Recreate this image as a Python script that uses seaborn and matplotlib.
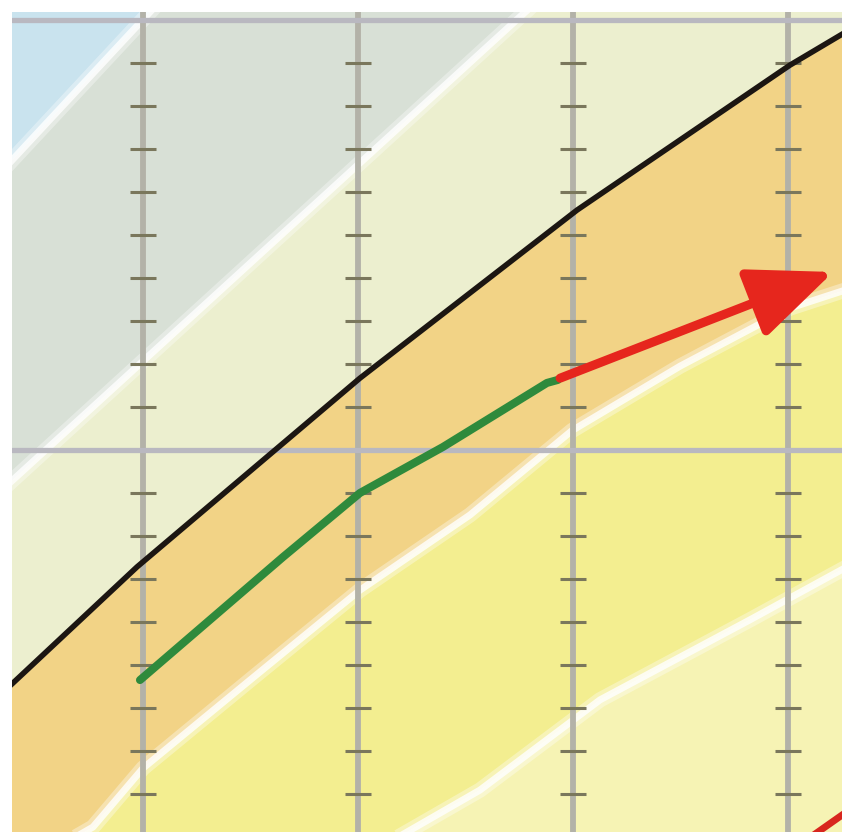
import matplotlib
matplotlib.use("Agg")
import matplotlib.pyplot as plt
import numpy as np
import seaborn as sns

# values (x: grid columns 1..4, y: tick units, 0 and 10 = horizontal rules)
grid_x = [1, 2, 3, 4]
grid_y = [0, 10]
tick_y = [-8, -7, -6, -5, -4, -3, -2, -1, 1, 2, 3, 4, 5, 6, 7, 8, 9]

# white boundaries between the coloured bands
edge_a_x = [0.0, 1.4]
edge_a_y = [4.64, 12.16]
edge_b_x = [0.0, 3.0]
edge_b_y = [-2.5, 11.2]
edge_c_x = [0.2, 0.767, 1.0, 1.498, 2.009, 2.521, 2.995, 3.498, 4.009, 4.5]
edge_c_y = [-10.4, -8.77, -7.40, -5.35, -3.26, -1.51, 0.45, 1.95, 3.3, 4.1]
edge_d_x = [1.9, 2.195, 2.567, 3.126, 3.823, 4.5]
edge_d_y = [-9.9, -8.98, -7.91, -5.81, -3.95, -2.1]

# black diagonal
black_x = [0.2, 0.395, 0.972, 2.009, 3.019, 4.009, 4.228, 4.5]
black_y = [-6.33, -5.42, -2.72, 1.67, 5.58, 8.95, 9.60, 10.41]

# green path
green_x = [0.986, 1.651, 2.009, 2.395, 2.879, 2.93]
green_y = [-5.35, -2.49, -1.0, 0.07, 1.56, 1.63]

# red arrow (start, tip) and the red stub in the lower right corner
arrow_x = [2.94, 4.21]
arrow_y = [1.67, 4.14]
stub_x = [4.112, 4.26]
stub_y = [-8.98, -8.46]

sns.set_theme(style="white")

fig = plt.figure(figsize=(8.5, 8.36), dpi=100)
ax = fig.add_axes([12 / 850, 4 / 836, 830 / 850, 820 / 836])
ax.set_xlim(0.3907, 4.2512)
ax.set_ylim(-8.884, 10.186)
ax.axis("off")

top = 14.0
bottom = -14.0


def band(xu, yu, xl, yl, color):
    px = list(xu) + list(xl)[::-1]
    py = list(yu) + list(yl)[::-1]
    ax.fill(px, py, color=color, lw=0, zorder=1)


# bands from the top-left corner down to the lower right
band([-1, 6], [top, top], edge_a_x, edge_a_y, "#c9e3ee")
band(edge_a_x + [6], edge_a_y + [top], edge_b_x, edge_b_y, "#d8e0d6")
band(edge_b_x + [6], edge_b_y + [top], black_x, black_y, "#ecefcf")
band(black_x, black_y, edge_c_x, edge_c_y, "#f2d386")
band(edge_c_x, edge_c_y, edge_d_x, edge_d_y, "#f3ee90")
band(edge_d_x, edge_d_y, [1.9, 6], [bottom, bottom], "#f6f3b4")

for ex, ey in [(edge_a_x, edge_a_y), (edge_b_x, edge_b_y), (edge_c_x, edge_c_y), (edge_d_x, edge_d_y)]:
    ax.plot(ex, ey, color="white", lw=11, alpha=0.35, solid_capstyle="butt", zorder=2)
    ax.plot(ex, ey, color="white", lw=5, alpha=0.8, solid_capstyle="butt", zorder=2)

# grid rules and tick marks
for gx in grid_x:
    ax.axvline(gx, color="#b3b2a8", lw=4.2, zorder=3)
    ax.hlines(tick_y, gx - 0.06, gx + 0.06, color="#7a775c", lw=2.2, zorder=3)
for gy in grid_y:
    ax.axhline(gy, color="#b9b8c0", lw=3.8, zorder=3)

sns.lineplot(x=black_x, y=black_y, sort=False, color="#1c1612", lw=4, ax=ax, zorder=4)
sns.lineplot(x=green_x, y=green_y, sort=False, color="#2f8a3c", lw=5.8, ax=ax, zorder=4)

ax.annotate(
    "",
    xy=(arrow_x[1], arrow_y[1]),
    xytext=(arrow_x[0], arrow_y[0]),
    arrowprops=dict(
        arrowstyle="-|>,head_length=2.6,head_width=1.1",
        mutation_scale=20,
        color="#e6261d",
        lw=6.5,
        shrinkA=0,
        shrinkB=0,
    ),
    zorder=5,
)
ax.plot(stub_x, stub_y, color="#d8261e", lw=5, solid_capstyle="butt", zorder=5)

fig.savefig("out.png", dpi=100, facecolor="white")
